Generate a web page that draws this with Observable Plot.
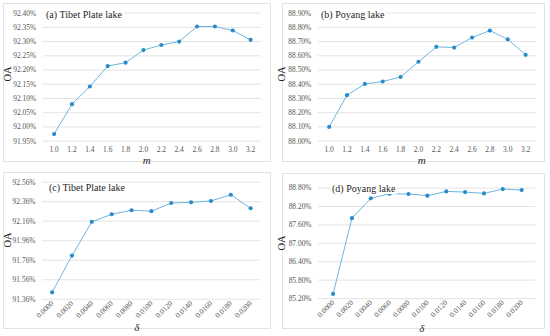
<!DOCTYPE html>
<html>
<head>
<meta charset="utf-8">
<script src="https://cdn.jsdelivr.net/npm/d3@7"></script>
<script src="https://cdn.jsdelivr.net/npm/@observablehq/plot@0.6"></script>
<style>
  html, body { margin: 0; padding: 0; background: #fff; }
  #wrap { position: relative; width: 550px; height: 336px; overflow: hidden; font-family: 'Liberation Serif', serif; }
  .box { position: absolute; border: 1px solid #e2e2e2; box-sizing: border-box; }
  .box svg { position: absolute; left: -1px; top: -1px; overflow: visible; font-family: 'Liberation Serif', serif !important; }
  .box svg text, .box svg g { font-family: 'Liberation Serif', serif !important; }
  .title { position: absolute; font-family: 'Liberation Serif', serif; font-size: 10px; line-height: 10px; background: #fff; padding: 0 2px; color: #262626; white-space: nowrap; }
  .ylab { position: absolute; font-family: 'Liberation Serif', serif; font-size: 10.5px; color: #262626; transform: translate(-50%, -50%) rotate(-90deg); white-space: nowrap; }
  .xlab { position: absolute; font-family: 'Liberation Serif', serif; font-size: 11px; font-style: italic; color: #262626; transform: translate(-50%, -50%); white-space: nowrap; }
</style>
</head>
<body>
<div id="wrap"></div>
<script>
// ---- data ----
const mLabels = ["1.0","1.2","1.4","1.6","1.8","2.0","2.2","2.4","2.6","2.8","3.0","3.2"];
const deltaLabels = ["0.0000","0.0020","0.0040","0.0060","0.0080","0.0100","0.0120","0.0140","0.0160","0.0180","0.0200"];

const oaTibetM  = [91.975, 92.080, 92.142, 92.214, 92.226, 92.270, 92.288, 92.300, 92.353, 92.353, 92.339, 92.306];
const oaPoyangM = [88.100, 88.323, 88.402, 88.419, 88.451, 88.558, 88.663, 88.658, 88.728, 88.777, 88.716, 88.607];
const oaTibetD  = [91.431, 91.807, 92.153, 92.231, 92.272, 92.262, 92.346, 92.353, 92.367, 92.431, 92.292];
const oaPoyangD = [85.351, 87.819, 88.466, 88.617, 88.606, 88.552, 88.692, 88.670, 88.627, 88.767, 88.735];

const ticksTibetM  = [91.95, 92.00, 92.05, 92.10, 92.15, 92.20, 92.25, 92.30, 92.35, 92.40];
const ticksPoyangM = [88.00, 88.10, 88.20, 88.30, 88.40, 88.50, 88.60, 88.70, 88.80, 88.90];
const ticksTibetD  = [91.36, 91.56, 91.76, 91.96, 92.16, 92.36, 92.56];
const ticksPoyangD = [85.20, 85.80, 86.40, 87.00, 87.60, 88.20, 88.80];

const titles = ["(a) Tibet Plate lake", "(b) Poyang lake", "(c) Tibet Plate lake", "(d) Poyang lake"];
const yTitle = "OA";
const xTitles = ["m", "m", "δ", "δ"];

// ---- layout ----
const wrap = document.getElementById("wrap");
const panels = [
  {box:[3,3,268,159],   mt:9.7,  mb:20.3, ml:40,   mr:8,   cats:mLabels,     vals:oaTibetM,  ticks:ticksTibetM,  rot:0,
   title:[44,10.3], ylab:[7,74], xlab:[146.7,160]},
  {box:[282,3,263,159], mt:9.7,  mb:20.3, ml:36,   mr:7,   cats:mLabels,     vals:oaPoyangM, ticks:ticksPoyangM, rot:0,
   title:[319,10.3], ylab:[281,74], xlab:[421.7,160]},
  {box:[3,172,268,157], mt:9.7,  mb:29.3, ml:39.3, mr:8.3, cats:deltaLabels, vals:oaTibetD,  ticks:ticksTibetD,  rot:-45,
   title:[47,183], ylab:[7,240], xlab:[136.7,327]},
  {box:[282,173,263,156], mt:14.7, mb:30, ml:36.3, mr:7.7, cats:deltaLabels, vals:oaPoyangD, ticks:ticksPoyangD, rot:-45,
   title:[330,183.5], ylab:[281,243], xlab:[421.7,328]}
];

panels.forEach((p, i) => {
  const [bx, by, bw, bh] = p.box;
  const div = document.createElement("div");
  div.className = "box";
  Object.assign(div.style, {left: bx + "px", top: by + "px", width: bw + "px", height: bh + "px"});
  const data = p.cats.map((c, k) => ({c, v: p.vals[k]}));
  const svg = Plot.plot({
    width: bw, height: bh,
    marginTop: p.mt, marginBottom: p.mb, marginLeft: p.ml, marginRight: p.mr,
    style: {fontFamily: "'Liberation Serif', serif", fontSize: "7.5px", color: "#555", background: "transparent", overflow: "visible"},
    x: {type: "point", domain: p.cats, padding: 0.5, label: null, tickSize: 0,
        tickPadding: p.rot ? 3 : 6, tickRotate: p.rot},
    y: {domain: [p.ticks[0], p.ticks[p.ticks.length - 1]], ticks: p.ticks,
        tickFormat: d => d.toFixed(2) + "%", label: null, tickSize: 0, tickPadding: 7},
    marks: [
      Plot.ruleY(p.ticks, {stroke: "#e4e4e4", strokeWidth: 1}),
      Plot.line(data, {x: "c", y: "v", stroke: "#6cb5df", strokeWidth: 1}),
      Plot.dot(data, {x: "c", y: "v", r: 2.1, fill: "#2a8bc9", stroke: "none"})
    ]
  });
  svg.setAttribute("font-family", "Liberation Serif");
  div.appendChild(svg);
  wrap.appendChild(div);

  const t = document.createElement("span");
  t.className = "title"; t.textContent = titles[i];
  t.style.left = p.title[0] + "px"; t.style.top = p.title[1] + "px";
  wrap.appendChild(t);

  const yl = document.createElement("span");
  yl.className = "ylab"; yl.textContent = yTitle;
  yl.style.left = p.ylab[0] + "px"; yl.style.top = p.ylab[1] + "px";
  wrap.appendChild(yl);

  const xl = document.createElement("span");
  xl.className = "xlab"; xl.textContent = xTitles[i];
  xl.style.left = p.xlab[0] + "px"; xl.style.top = p.xlab[1] + "px";
  wrap.appendChild(xl);
});
</script>
</body>
</html>
